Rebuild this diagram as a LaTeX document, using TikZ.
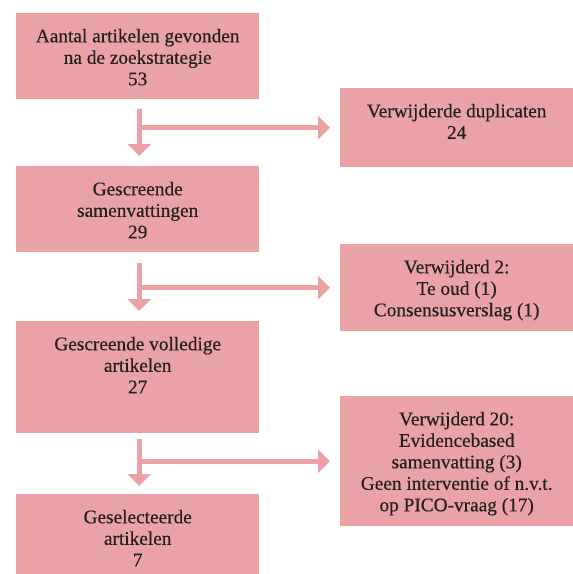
\documentclass[tikz,border=0pt]{standalone}
\usepackage{fontspec}
\setmainfont[FakeBold=0.4]{Liberation Serif}
\usetikzlibrary{arrows.meta}
\definecolor{boxpink}{HTML}{EBA2A7}
\definecolor{txtcol}{HTML}{231F20}
\tikzset{
  box/.style={fill=boxpink, draw=none, inner sep=0pt, anchor=north west},
  txt/.style={anchor=north, inner sep=0pt, align=center, text=txtcol,
              font=\fontsize{19.3}{21.5}\selectfont},
  arr/.style={draw=boxpink, line width=5pt,
              -{Triangle[width=23pt,length=12pt]}},
  seg/.style={draw=boxpink, line width=5pt}
}
\begin{document}
\begin{tikzpicture}[x=1pt,y=1pt]
\useasboundingbox (0,0) rectangle (573,-574);
% left boxes
\node[box, minimum width=243pt, minimum height=86pt] (b1) at (16,-13) {};
\node[box, minimum width=243pt, minimum height=86pt] (b2) at (16,-166) {};
\node[box, minimum width=243pt, minimum height=112pt] (b3) at (16,-321) {};
\node[box, minimum width=243pt, minimum height=80pt] (b4) at (16,-494) {};
% right boxes
\node[box, minimum width=233pt, minimum height=79pt] (r1) at (340,-88) {};
\node[box, minimum width=233pt, minimum height=87pt] (r2) at (340,-244) {};
\node[box, minimum width=233pt, minimum height=130pt] (r3) at (340,-396) {};
% texts
\node[txt] (t1) at ([yshift=-15.7pt]b1.north) {Aantal artikelen gevonden\\na de zoekstrategie\\53};
\node[txt] (t2) at ([yshift=-15.7pt]b2.north) {Gescreende\\samenvattingen\\29};
\node[txt] (t3) at ([yshift=-15.7pt]b3.north) {Gescreende volledige\\artikelen\\27};
\node[txt] (t4) at ([yshift=-15.7pt]b4.north) {Geselecteerde\\artikelen\\7};
\node[txt] (s1) at ([yshift=-15.7pt]r1.north) {Verwijderde duplicaten\\24};
\node[txt] (s2) at ([yshift=-15.7pt]r2.north) {Verwijderd 2:\\Te oud (1)\\Consensusverslag (1)};
\node[txt] (s3) at ([yshift=-15.7pt]r3.north) {Verwijderd 20:\\Evidencebased\\samenvatting (3)\\Geen interventie of n.v.t.\\op PICO-vraag (17)};
% junction points
\coordinate (j1) at ([xshift=1.5pt]b1.south |- r1.west);
\coordinate (j2) at ([xshift=1.5pt]b2.south |- r2.west);
\coordinate (j3) at ([xshift=1.5pt]b3.south |- r3.west);
% vertical arrows
\draw[arr] ([xshift=1.5pt,yshift=-10pt]b1.south) -- ([xshift=1.5pt,yshift=10pt]b2.north);
\draw[arr] ([xshift=1.5pt,yshift=-11pt]b2.south) -- ([xshift=1.5pt,yshift=10pt]b3.north);
\draw[arr] ([xshift=1.5pt,yshift=-6pt]b3.south) -- ([xshift=1.5pt,yshift=8pt]b4.north);
% horizontal arrows
\draw[arr] ([xshift=-2.5pt]j1) -- ([xshift=-10pt]r1.west);
\draw[arr] ([xshift=-2.5pt]j2) -- ([xshift=-10pt]r2.west);
\draw[arr] ([xshift=-2.5pt]j3) -- ([xshift=-10pt]r3.west);
\end{tikzpicture}
\end{document}
